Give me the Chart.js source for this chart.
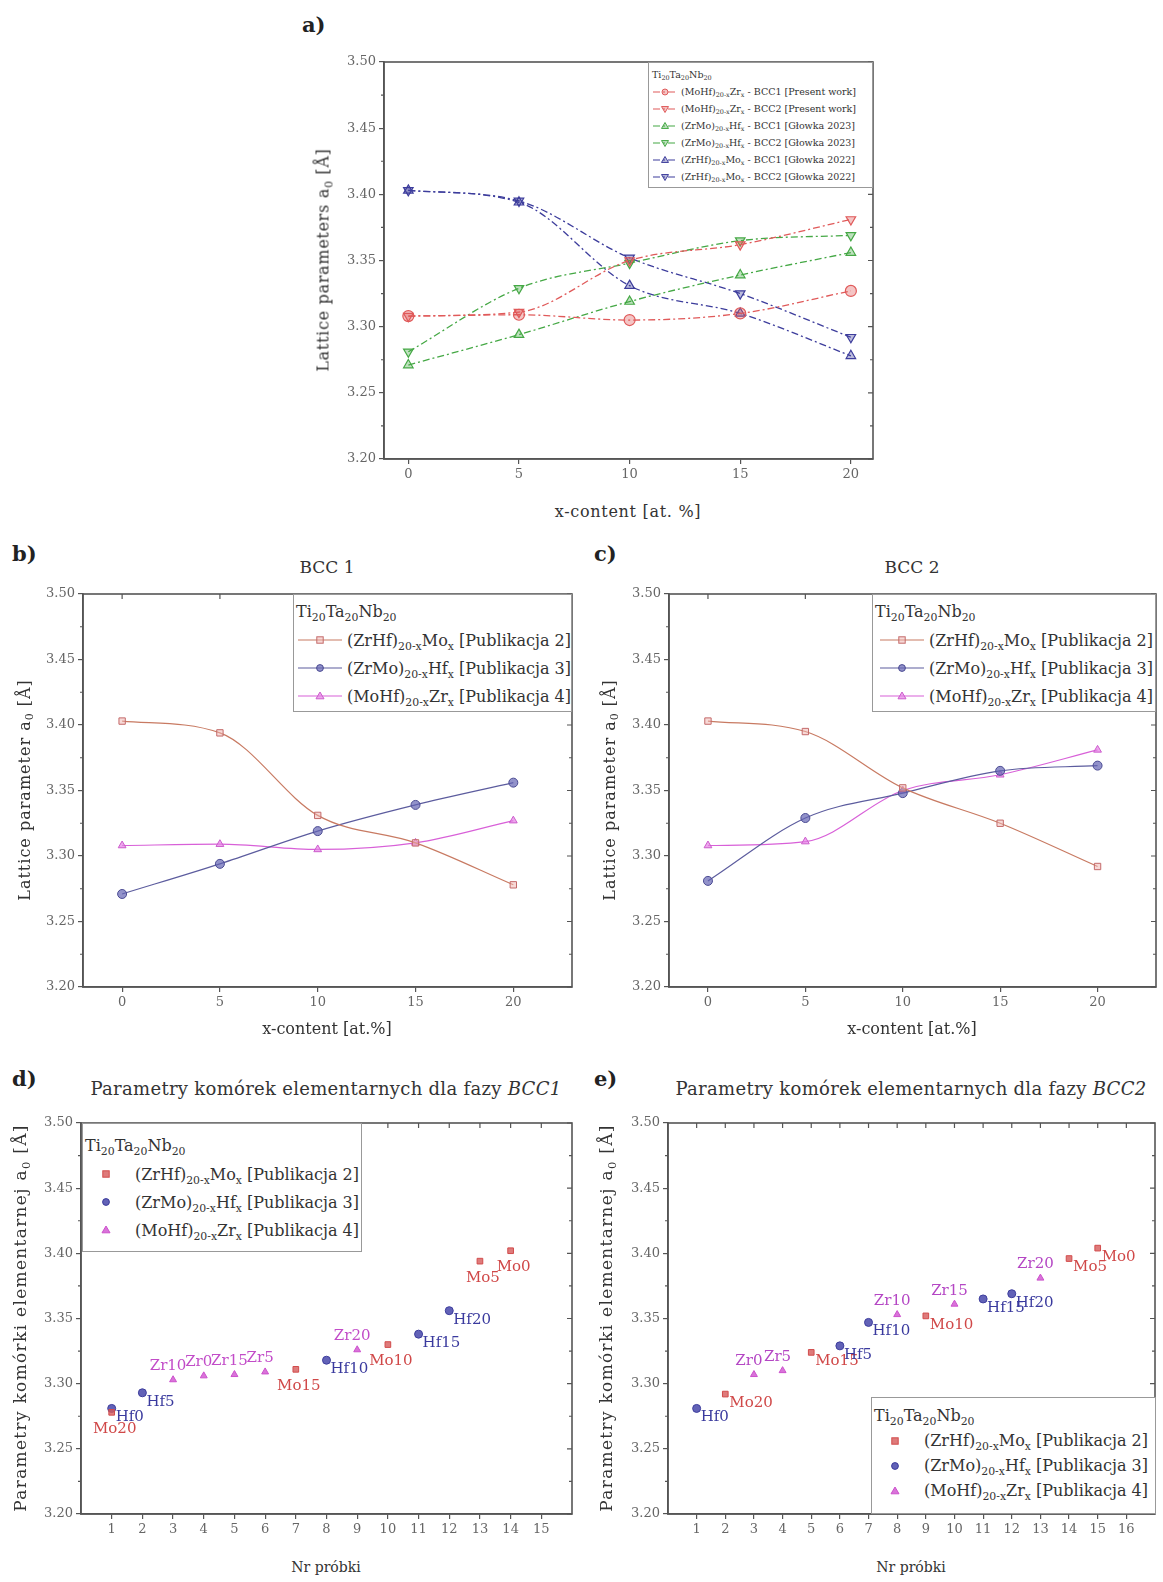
<!DOCTYPE html>
<html>
<head>
<meta charset="utf-8">
<script src="https://cdn.jsdelivr.net/npm/chart.js@4.4.1/dist/chart.umd.min.js"></script>
<style>
  body { margin: 0; background: #fff; width: 1163px; height: 1582px; position: relative; overflow: hidden;
         font-family: 'DejaVu Serif', serif; color: #333; }
  .abs { position: absolute; }
  .plabel { font-weight: bold; font-size: 21px; color: #222; }
  .title { font-size: 17px; transform: translateX(-50%); white-space: nowrap; }
  .xtitle { font-size: 16px; transform: translateX(-50%); white-space: nowrap; }
  .ytitle { font-size: 16px; letter-spacing: 1px; transform: translate(-50%, -50%) rotate(-90deg); white-space: nowrap; }
  .legend { background: #fff; border: 1px solid #999; box-sizing: border-box; z-index: 5; white-space: nowrap; overflow: hidden; }
  .legend .row { display: flex; align-items: center; }
  .legend svg { flex: none; }
  sub { font-size: 68%; vertical-align: -0.35em; line-height: 0; }
</style>
</head>
<body>
<div id="wa" class="abs"></div>
<div id="wb" class="abs"></div>
<div id="wc" class="abs"></div>
<div id="wd" class="abs"></div>
<div id="we" class="abs"></div>

<div class="abs plabel" style="left:302px; top:12px">a)</div>
<div class="abs plabel" style="left:12px; top:541px">b)</div>
<div class="abs plabel" style="left:594px; top:541px">c)</div>
<div class="abs plabel" style="left:12px; top:1066px">d)</div>
<div class="abs plabel" style="left:594px; top:1066px">e)</div>

<div class="abs title" style="left:327px; top:557px">BCC 1</div>
<div class="abs title" style="left:912px; top:557px">BCC 2</div>
<div class="abs title" style="left:326px; top:1078px; font-size:18px; letter-spacing:0.3px">Parametry komórek elementarnych dla fazy <i>BCC1</i></div>
<div class="abs title" style="left:911px; top:1078px; font-size:18px; letter-spacing:0.3px">Parametry komórek elementarnych dla fazy <i>BCC2</i></div>

<div class="abs xtitle" style="left:628px; top:502px; letter-spacing:0.7px">x-content [at. %]</div>
<div class="abs xtitle" style="left:327px; top:1019px">x-content [at.%]</div>
<div class="abs xtitle" style="left:912px; top:1019px">x-content [at.%]</div>
<div class="abs xtitle" style="left:326px; top:1559px; font-size:14px">Nr próbki</div>
<div class="abs xtitle" style="left:911px; top:1559px; font-size:14px">Nr próbki</div>

<div class="abs ytitle" style="left:323px; top:260px; letter-spacing:0.7px">Lattice parameters a<sub>0</sub> [Å]</div>
<div class="abs ytitle" style="left:24px; top:790px">Lattice parameter a<sub>0</sub> [Å]</div>
<div class="abs ytitle" style="left:609px; top:790px">Lattice parameter a<sub>0</sub> [Å]</div>
<div class="abs ytitle" style="left:20px; top:1318px; font-size:17px; letter-spacing:1.3px">Parametry komórki elementarnej a<sub>0</sub> [Å]</div>
<div class="abs ytitle" style="left:606px; top:1318px; font-size:17px; letter-spacing:1.3px">Parametry komórki elementarnej a<sub>0</sub> [Å]</div>

<div id="lga" class="abs legend" style="left:648px; top:62px; width:225px; height:126px; font-size:9.5px; padding:3px 0 0 3px"></div>
<div id="lgb" class="abs legend" style="left:293px; top:594px; width:279px; height:118px; font-size:16px; padding:3px 0 0 2px"></div>
<div id="lgc" class="abs legend" style="left:872px; top:594px; width:284px; height:118px; font-size:16px; padding:3px 0 0 2px"></div>
<div id="lgd" class="abs legend" style="left:82px; top:1123px; width:280px; height:129px; font-size:16px; padding:8px 0 0 2px"></div>
<div id="lge" class="abs legend" style="left:871px; top:1397px; width:285px; height:117px; font-size:16px; padding:5px 0 0 2px"></div>

<script>
'use strict';

// x-content [at. %] for panels a, b, c
const xContent = [0, 5, 10, 15, 20];

// BCC1 lattice parameters
const bcc1ZrHfMo = [3.403, 3.394, 3.331, 3.310, 3.278];
const bcc1ZrMoHf = [3.271, 3.294, 3.319, 3.339, 3.356];
const bcc1MoHfZr = [3.308, 3.309, 3.305, 3.310, 3.327];

// BCC2 lattice parameters
const bcc2ZrHfMo = [3.403, 3.395, 3.352, 3.325, 3.292];
const bcc2ZrMoHf = [3.281, 3.329, 3.348, 3.365, 3.369];
const bcc2MoHfZr = [3.308, 3.311, 3.350, 3.362, 3.381];

// panel d (BCC1, sorted by sample number)
const sampleD_Mo = [1, 7, 10, 13, 14];
const valueD_Mo = [3.278, 3.311, 3.330, 3.394, 3.402];
const namesD_Mo = ['Mo20', 'Mo15', 'Mo10', 'Mo5', 'Mo0'];
const sampleD_Hf = [1, 2, 8, 11, 12];
const valueD_Hf = [3.281, 3.293, 3.318, 3.338, 3.356];
const namesD_Hf = ['Hf0', 'Hf5', 'Hf10', 'Hf15', 'Hf20'];
const sampleD_Zr = [3, 4, 5, 6, 9];
const valueD_Zr = [3.303, 3.306, 3.307, 3.309, 3.326];
const namesD_Zr = ['Zr10', 'Zr0', 'Zr15', 'Zr5', 'Zr20'];

// panel e (BCC2, sorted by sample number)
const sampleE_Mo = [2, 5, 9, 14, 15];
const valueE_Mo = [3.292, 3.324, 3.352, 3.396, 3.404];
const namesE_Mo = ['Mo20', 'Mo15', 'Mo10', 'Mo5', 'Mo0'];
const sampleE_Hf = [1, 6, 7, 11, 12];
const valueE_Hf = [3.281, 3.329, 3.347, 3.365, 3.369];
const namesE_Hf = ['Hf0', 'Hf5', 'Hf10', 'Hf15', 'Hf20'];
const sampleE_Zr = [3, 4, 8, 10, 13];
const valueE_Zr = [3.307, 3.310, 3.353, 3.361, 3.381];
const namesE_Zr = ['Zr0', 'Zr5', 'Zr10', 'Zr15', 'Zr20'];

// tick labels
const yTicks = [3.20, 3.25, 3.30, 3.35, 3.40, 3.45, 3.50];
const xTicksContent = [0, 5, 10, 15, 20];
const xTicksD = [1, 2, 3, 4, 5, 6, 7, 8, 9, 10, 11, 12, 13, 14, 15];
const xTicksE = [1, 2, 3, 4, 5, 6, 7, 8, 9, 10, 11, 12, 13, 14, 15, 16];

const header = 'Ti<sub>20</sub>Ta<sub>20</sub>Nb<sub>20</sub>';
const nameMo = '(ZrHf)<sub>20-x</sub>Mo<sub>x</sub>';
const nameHf = '(ZrMo)<sub>20-x</sub>Hf<sub>x</sub>';
const nameZr = '(MoHf)<sub>20-x</sub>Zr<sub>x</sub>';

const AXIS = '#555';
const tickFont = { family: 'DejaVu Serif', size: 13 };

const pairs = (xs, ys) => xs.map((x, i) => ({ x: x, y: ys[i] }));

// frame around the plot, mirrored and minor ticks
const framePlugin = {
  id: 'frame',
  afterDraw(chart, args, opts) {
    const { ctx, chartArea: ca } = chart;
    const x = chart.scales.x, y = chart.scales.y;
    ctx.save();
    ctx.strokeStyle = AXIS;
    ctx.lineWidth = 1.6;
    ctx.strokeRect(ca.left, ca.top, ca.right - ca.left, ca.bottom - ca.top);
    ctx.lineWidth = 1.2;
    ctx.beginPath();
    y.ticks.forEach(t => {
      const py = y.getPixelForValue(t.value);
      ctx.moveTo(ca.right, py); ctx.lineTo(ca.right - 5, py);
    });
    for (let i = 0; i < y.ticks.length - 1; i++) {
      const py = y.getPixelForValue((y.ticks[i].value + y.ticks[i + 1].value) / 2);
      ctx.moveTo(ca.left - 3, py); ctx.lineTo(ca.left, py);
      ctx.moveTo(ca.right, py); ctx.lineTo(ca.right - 3, py);
    }
    if (opts.topTicks) {
      x.ticks.forEach(t => {
        const px = x.getPixelForValue(t.value);
        ctx.moveTo(px, ca.top); ctx.lineTo(px, ca.top + 5);
      });
    }
    ctx.stroke();
    ctx.restore();
  }
};

// sample names next to points (panels d, e)
const pointNamesPlugin = {
  id: 'pointNames',
  afterDatasetsDraw(chart) {
    const ctx = chart.ctx;
    chart.data.datasets.forEach((ds, i) => {
      if (!ds.names) return;
      const meta = chart.getDatasetMeta(i);
      ctx.save();
      ctx.font = '15px "DejaVu Serif"';
      ctx.fillStyle = ds.nameColor;
      meta.data.forEach((pt, j) => {
        if (ds.namePlace === 'above') {
          ctx.textAlign = 'center'; ctx.textBaseline = 'bottom';
          ctx.fillText(ds.names[j], pt.x - 5, pt.y - 6);
        } else if (ds.namePlace === 'below') {
          ctx.textAlign = 'center'; ctx.textBaseline = 'top';
          ctx.fillText(ds.names[j], pt.x + 3, pt.y + 9);
        } else {
          ctx.textAlign = 'left'; ctx.textBaseline = 'middle';
          ctx.fillText(ds.names[j], pt.x + 4, pt.y + 9);
        }
      });
      ctx.restore();
    });
  }
};

const L = 50, T = 14, R = 14, B = 34;

function makeChart(id, box, type, xMin, xMax, xTicks, datasets, topTicks) {
  const wrap = document.getElementById(id);
  wrap.style.left = (box.left - L) + 'px';
  wrap.style.top = (box.top - T) + 'px';
  const cv = document.createElement('canvas');
  cv.width = box.w + L + R;
  cv.height = box.h + T + B;
  wrap.appendChild(cv);
  return new Chart(cv, {
    type: type,
    data: { datasets: datasets },
    options: {
      responsive: false,
      animation: false,
      devicePixelRatio: 1,
      layout: { padding: { top: T, right: R, left: 0, bottom: 0 } },
      plugins: { legend: { display: false }, tooltip: { enabled: false }, frame: { topTicks: topTicks } },
      scales: {
        x: {
          type: 'linear', min: xMin, max: xMax,
          afterBuildTicks: s => { s.ticks = xTicks.map(v => ({ value: v })); },
          afterFit: s => { s.height = B; },
          grid: { drawOnChartArea: false, drawTicks: true, tickLength: 5, color: AXIS, lineWidth: 1.2 },
          border: { display: true, color: AXIS, width: 1.6 },
          ticks: { font: tickFont, color: '#666', padding: 3, maxRotation: 0, autoSkip: false, callback: v => String(v) }
        },
        y: {
          type: 'linear', min: 3.2, max: 3.5,
          afterBuildTicks: s => { s.ticks = yTicks.map(v => ({ value: v })); },
          afterFit: s => { s.width = L; },
          grid: { drawOnChartArea: false, drawTicks: true, tickLength: 5, color: AXIS, lineWidth: 1.2 },
          border: { display: true, color: AXIS, width: 1.6 },
          ticks: { font: tickFont, color: '#666', padding: 3, autoSkip: false, callback: v => v.toFixed(2) }
        }
      }
    },
    plugins: [framePlugin, pointNamesPlugin]
  });
}

function markerSvg(ds, withLine, w) {
  const c = w / 2, stroke = ds.pointBorderColor, fill = ds.pointBackgroundColor;
  const r = ds.legendRadius || 4;
  let s = `<svg width="${w}" height="14" viewBox="0 0 ${w} 14">`;
  if (withLine) {
    const dash = ds.borderDash ? ` stroke-dasharray="${ds.borderDash.join(' ')}"` : '';
    s += `<line x1="1" y1="7" x2="${w - 1}" y2="7" stroke="${ds.borderColor}" stroke-width="1.2"${dash}/>`;
  }
  const st = `fill="${fill}" stroke="${stroke}" stroke-width="1"`;
  if (ds.pointStyle === 'rect') {
    s += `<rect x="${c - r * 0.8}" y="${7 - r * 0.8}" width="${r * 1.6}" height="${r * 1.6}" ${st}/>`;
  } else if (ds.pointStyle === 'triangle') {
    const pts = ds.pointRotation === 180
      ? `${c},${7 + r} ${c + r},${7 - r * 0.7} ${c - r},${7 - r * 0.7}`
      : `${c},${7 - r} ${c + r},${7 + r * 0.7} ${c - r},${7 + r * 0.7}`;
    s += `<polygon points="${pts}" ${st}/>`;
  } else {
    s += `<circle cx="${c}" cy="7" r="${r * 0.85}" ${st}/>`;
  }
  return s + '</svg>';
}

function buildLegend(elId, chart, opts) {
  const el = document.getElementById(elId);
  let html = `<div style="height:${opts.rowH}px;line-height:${opts.rowH}px">${header}</div>`;
  chart.data.datasets.forEach(ds => {
    html += `<div class="row" style="height:${opts.rowH}px">` +
      `<span style="display:inline-block;width:${opts.indent}px"></span>` +
      markerSvg(ds, opts.line, opts.markW) +
      `<span style="margin-left:${opts.gap}px">${ds.legendHtml}</span></div>`;
  });
  el.innerHTML = html;
}

// ---------- panel a ----------
const RED = '#e05a5a', GREEN = '#45a845', BLUE = '#3d3d9c';
function lineA(values, color, fillA, style, rot, legendHtml) {
  return {
    data: pairs(xContent, values),
    borderColor: color, borderWidth: 1.3, borderDash: [7, 3, 2, 3],
    cubicInterpolationMode: 'monotone',
    pointStyle: style, pointRotation: rot, pointRadius: 5.5,
    pointBackgroundColor: fillA, pointBorderColor: color, pointBorderWidth: 1.2,
    legendHtml: legendHtml, legendRadius: 3.5
  };
}
const chartA = makeChart('wa', { left: 384, top: 62, w: 489, h: 397 }, 'line', -1.1, 21, xTicksContent, [
  lineA(bcc1MoHfZr, RED, 'rgba(224,90,90,0.35)', 'circle', 0, nameZr + ' - BCC1 [Present work]'),
  lineA(bcc2MoHfZr, RED, 'rgba(224,90,90,0.35)', 'triangle', 180, nameZr + ' - BCC2 [Present work]'),
  lineA(bcc1ZrMoHf, GREEN, 'rgba(69,168,69,0.35)', 'triangle', 0, nameHf + ' - BCC1 [Głowka 2023]'),
  lineA(bcc2ZrMoHf, GREEN, 'rgba(69,168,69,0.35)', 'triangle', 180, nameHf + ' - BCC2 [Głowka 2023]'),
  lineA(bcc1ZrHfMo, BLUE, 'rgba(61,61,156,0.35)', 'triangle', 0, nameMo + ' - BCC1 [Głowka 2022]'),
  lineA(bcc2ZrHfMo, BLUE, 'rgba(61,61,156,0.35)', 'triangle', 180, nameMo + ' - BCC2 [Głowka 2022]')
], false);
buildLegend('lga', chartA, { rowH: 17, indent: 0, markW: 26, gap: 3, line: true });

// ---------- panels b, c ----------
function lineBC(values, color, fill, stroke, style, legendHtml) {
  return {
    data: pairs(xContent, values),
    borderColor: color, borderWidth: 1.2, cubicInterpolationMode: 'monotone',
    pointStyle: style, pointRadius: 4.5,
    pointBackgroundColor: fill, pointBorderColor: stroke, pointBorderWidth: 1,
    legendHtml: legendHtml, legendRadius: 4
  };
}
const MO_LINE = '#c87a62', HF_LINE = '#5c5c9e', ZR_LINE = '#d860d8';
function bcSets(mo, hf, zr) {
  return [
    lineBC(mo, MO_LINE, 'rgba(240,180,175,0.5)', '#c46a6a', 'rect', nameMo + ' [Publikacja 2]'),
    lineBC(hf, HF_LINE, 'rgba(100,100,180,0.7)', '#4a4a92', 'circle', nameHf + ' [Publikacja 3]'),
    lineBC(zr, ZR_LINE, 'rgba(230,130,230,0.7)', '#cc5ccc', 'triangle', nameZr + ' [Publikacja 4]')
  ];
}
const chartB = makeChart('wb', { left: 83, top: 594, w: 489, h: 393 }, 'line', -2, 23, xTicksContent,
  bcSets(bcc1ZrHfMo, bcc1ZrMoHf, bcc1MoHfZr), true);
const chartC = makeChart('wc', { left: 669, top: 594, w: 487, h: 393 }, 'line', -2, 23, xTicksContent,
  bcSets(bcc2ZrHfMo, bcc2ZrMoHf, bcc2MoHfZr), true);
buildLegend('lgb', chartB, { rowH: 28, indent: 4, markW: 46, gap: 4, line: true });
buildLegend('lgc', chartC, { rowH: 28, indent: 4, markW: 46, gap: 4, line: true });

// ---------- panels d, e ----------
function scat(xs, ys, names, place, color, fill, style, nameColor, legendHtml) {
  return {
    data: pairs(xs, ys),
    pointStyle: style, pointRadius: 4,
    pointBackgroundColor: fill, pointBorderColor: color, pointBorderWidth: 1,
    names: names, namePlace: place, nameColor: nameColor,
    legendHtml: legendHtml, legendRadius: 4
  };
}
const chartD = makeChart('wd', { left: 81, top: 1123, w: 491, h: 391 }, 'scatter', 0, 16, xTicksD, [
  scat(sampleD_Mo, valueD_Mo, namesD_Mo, 'below', '#d24c4c', 'rgba(214,90,90,0.8)', 'rect', '#d04848', nameMo + ' [Publikacja 2]'),
  scat(sampleD_Hf, valueD_Hf, namesD_Hf, 'right', '#3c3c9c', 'rgba(70,70,170,0.85)', 'circle', '#3a3a9e', nameHf + ' [Publikacja 3]'),
  scat(sampleD_Zr, valueD_Zr, namesD_Zr, 'above', '#cc50cc', 'rgba(210,90,210,0.85)', 'triangle', '#c24cc8', nameZr + ' [Publikacja 4]')
], true);
const chartE = makeChart('we', { left: 668, top: 1123, w: 487, h: 391 }, 'scatter', 0, 17, xTicksE, [
  scat(sampleE_Mo, valueE_Mo, namesE_Mo, 'right', '#d24c4c', 'rgba(214,90,90,0.8)', 'rect', '#d04848', nameMo + ' [Publikacja 2]'),
  scat(sampleE_Hf, valueE_Hf, namesE_Hf, 'right', '#3c3c9c', 'rgba(70,70,170,0.85)', 'circle', '#3a3a9e', nameHf + ' [Publikacja 3]'),
  scat(sampleE_Zr, valueE_Zr, namesE_Zr, 'above', '#cc50cc', 'rgba(210,90,210,0.85)', 'triangle', '#b446c4', nameZr + ' [Publikacja 4]')
], true);
buildLegend('lgd', chartD, { rowH: 28, indent: 14, markW: 14, gap: 22, line: false });
buildLegend('lge', chartE, { rowH: 25, indent: 14, markW: 14, gap: 22, line: false });
</script>
</body>
</html>
